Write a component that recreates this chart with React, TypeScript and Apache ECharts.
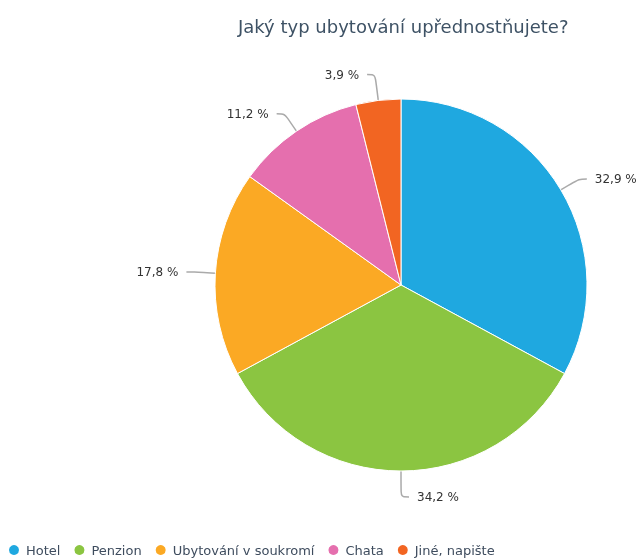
import React, { useEffect, useRef } from "react";
import * as echarts from "echarts";

const categories = ["Hotel", "Penzion", "Ubytování v soukromí", "Chata", "Jiné, napište"];
const values = [32.9, 34.2, 17.8, 11.2, 3.9];
const colors = ["#1fa8e0", "#8bc541", "#fba924", "#e56fae", "#f26522"];
const titleText = "Jaký typ ubytování upřednostňujete?";

export default function App() {
  const ref = useRef<HTMLDivElement>(null);
  useEffect(() => {
    if (!ref.current) return;
    const chart = echarts.init(ref.current, null, { renderer: "svg" });
    const longLine = [false, true, false, false, true];
    chart.setOption({
      animation: false,
      textStyle: { fontFamily: "DejaVu Sans" },
      title: {
        text: titleText,
        left: 233,
        top: 12,
        textStyle: { fontSize: 18, fontWeight: "normal", color: "#3e5265", fontFamily: "DejaVu Sans" },
      },
      legend: {
        data: categories,
        left: 2,
        top: 543,
        icon: "circle",
        itemWidth: 14,
        itemHeight: 12,
        itemGap: 12,
        padding: [0, 5],
        textStyle: { fontSize: 13, color: "#3e4c5e", fontFamily: "DejaVu Sans" },
      },
      series: [
        {
          type: "pie",
          center: [401, 285],
          radius: 186,
          startAngle: 90,
          clockwise: true,
          data: categories.map((c, i) => ({
            name: c,
            value: values[i],
            itemStyle: { color: colors[i] },
            labelLine: longLine[i] ? { length: 26 } : undefined,
          })),
          itemStyle: { borderColor: "#ffffff", borderWidth: 1 },
          label: {
            show: true,
            formatter: (p: any) => `${p.value.toFixed(1).replace(".", ",")} %`,
            fontSize: 12,
            color: "#333333",
            fontFamily: "DejaVu Sans",
            overflow: "none",
            distanceToLabelLine: 8,
          },
          labelLine: {
            show: true,
            length: 21,
            length2: 8,
            smooth: 0.3,
            lineStyle: { color: "#aaaaaa", width: 1.5 },
          },
          emphasis: { disabled: true },
        },
      ],
    });
    return () => chart.dispose();
  }, []);
  return <div ref={ref} style={{ position: "fixed", left: 0, top: 0, width: 640, height: 560 }} />;
}
